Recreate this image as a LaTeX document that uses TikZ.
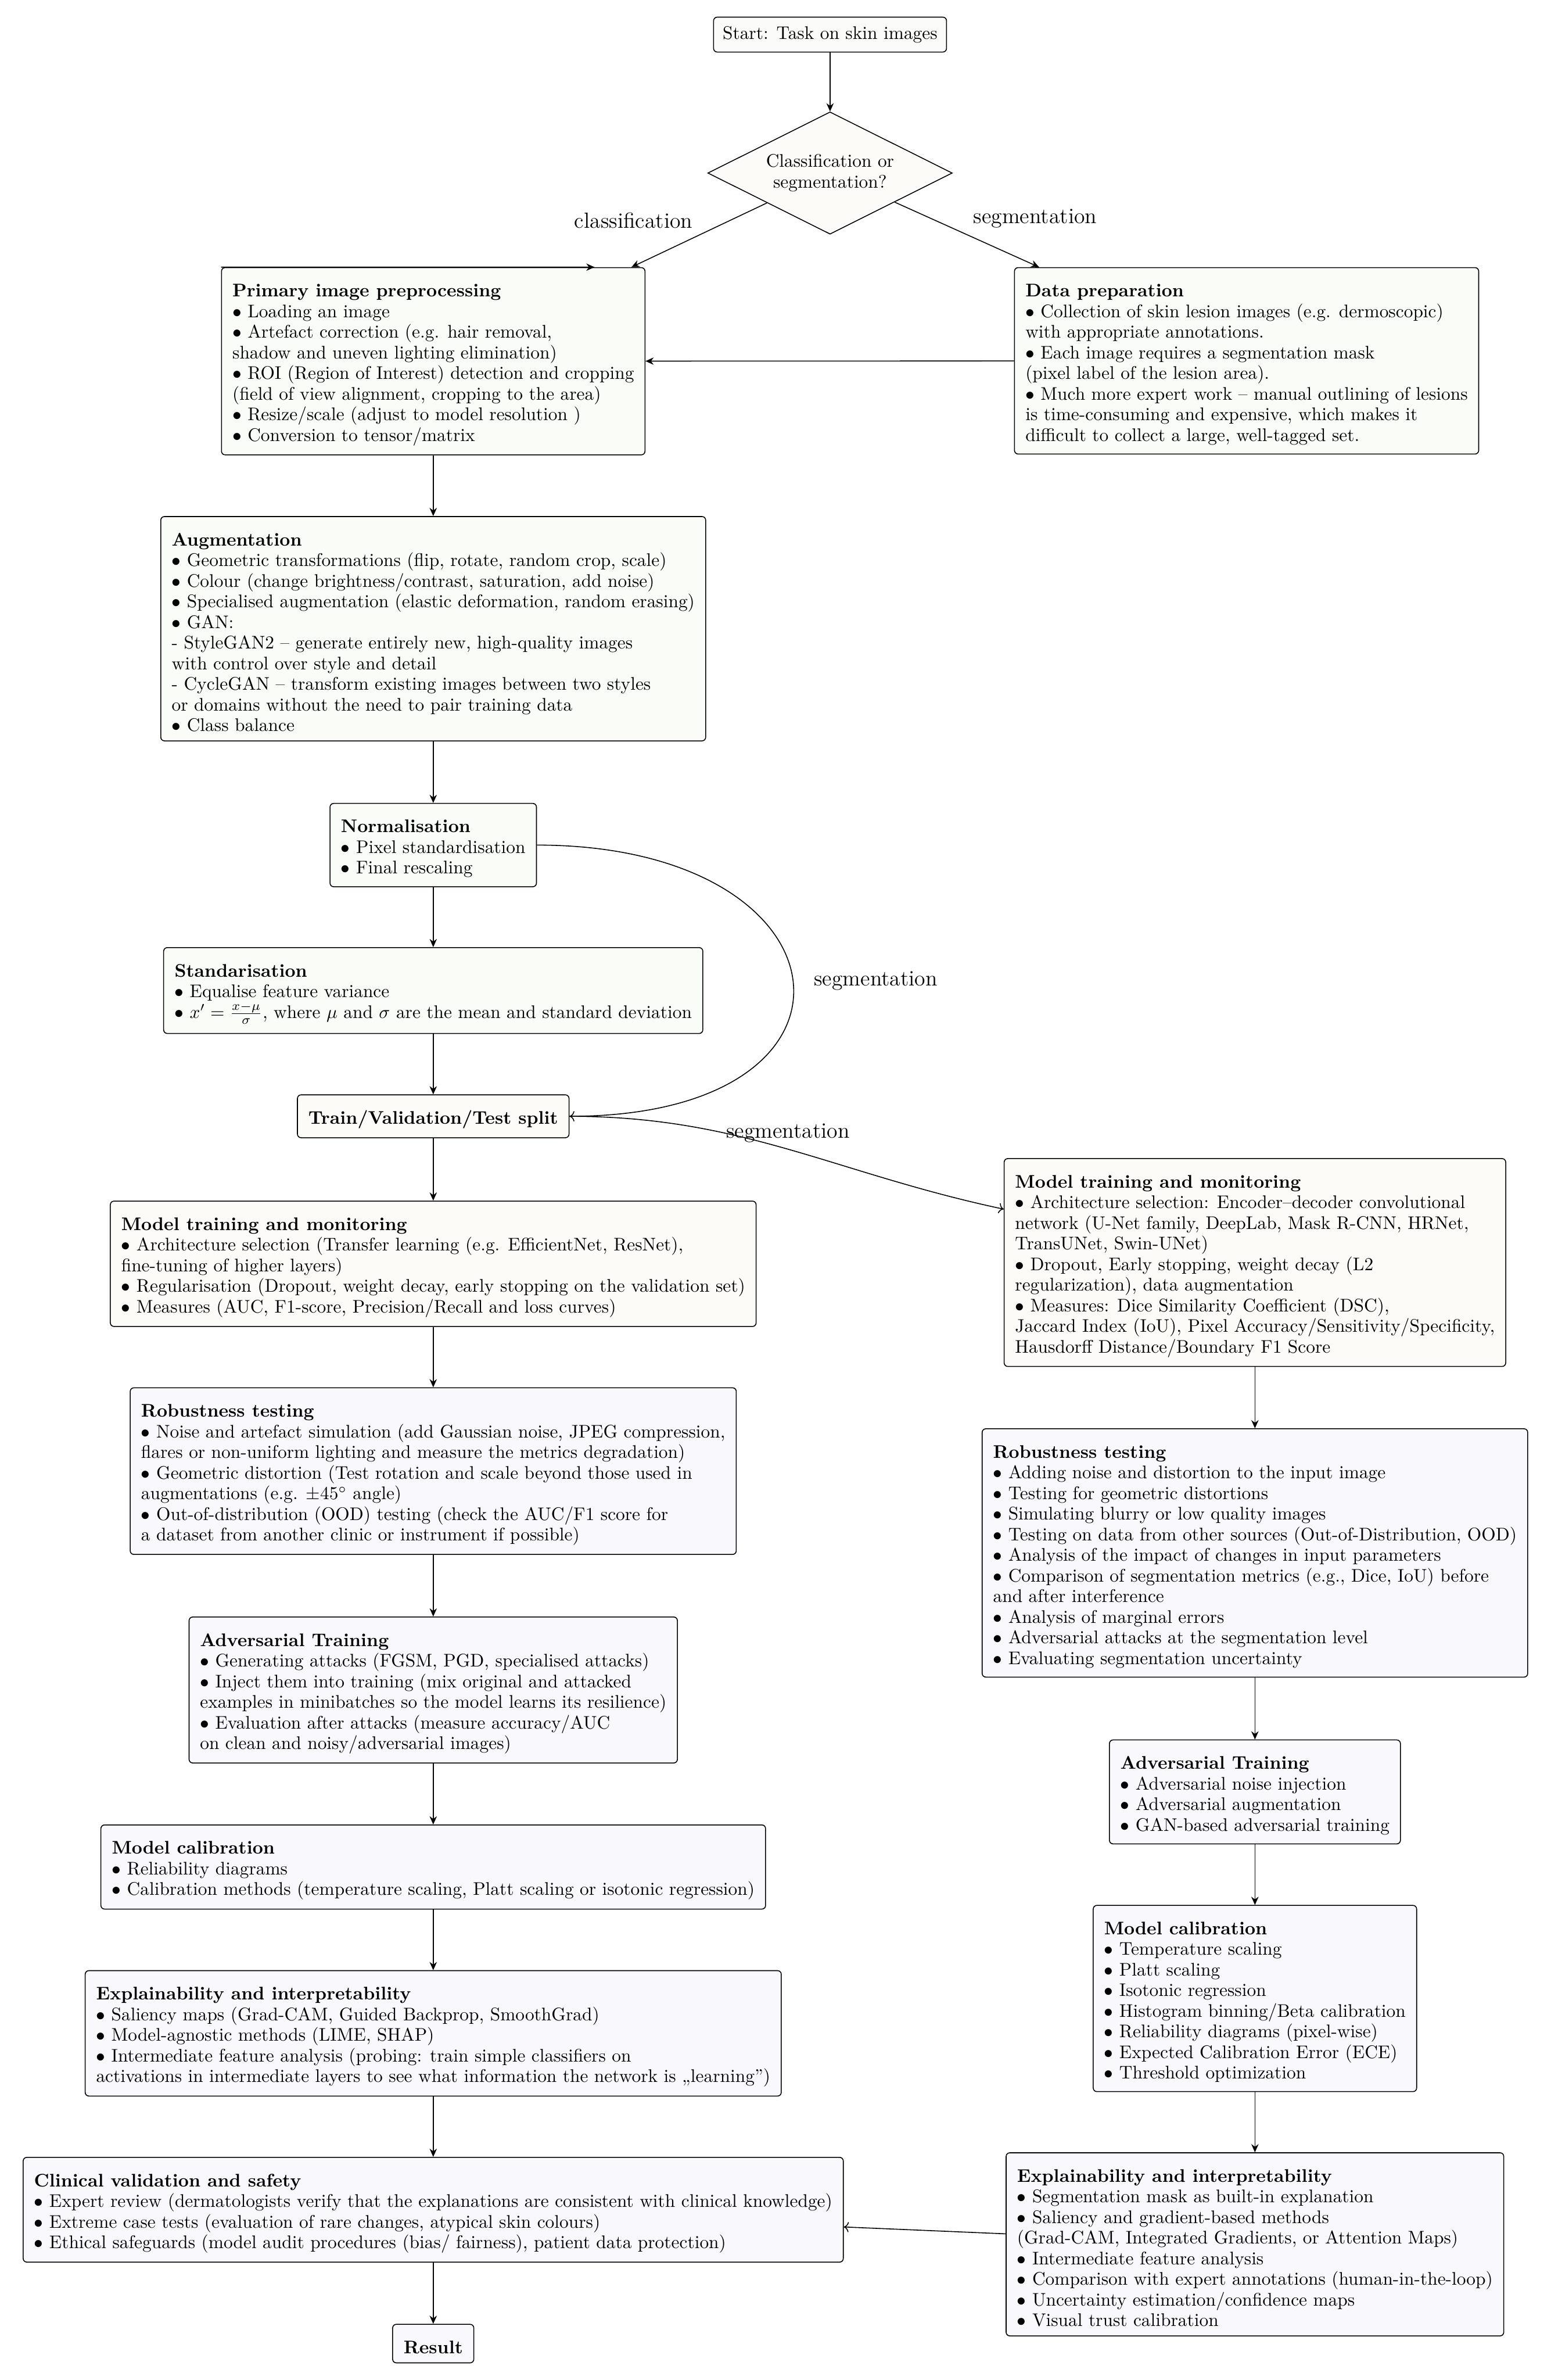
\documentclass[tikz,border=0pt]{standalone}
\usepackage{amsmath}
\usetikzlibrary{arrows.meta,shapes.geometric,calc}

\definecolor{prepfill}{RGB}{250,252,247}
\definecolor{trainfill}{RGB}{252,251,247}
\definecolor{testfill}{RGB}{249,248,252}
\definecolor{startfill}{RGB}{251,251,249}

\tikzset{
  block/.style={draw, rounded corners=2pt, align=left, anchor=north, inner xsep=6pt, inner ysep=5pt, line width=0.5pt, font=\fontsize{10}{11.3}\selectfont},
  decision/.style={draw, diamond, aspect=2, minimum width=134pt, minimum height=67pt, inner sep=1pt, align=center, line width=0.5pt, fill=trainfill, font=\fontsize{10}{11.3}\selectfont},
  flow/.style={-{Stealth[length=4.5pt,width=4pt]}, line width=0.5pt},
  seglink/.style={->, line width=0.5pt}
}

\newcommand{\blockhead}[1]{\rule{0pt}{11pt}\textbf{#1}}
\newcommand{\bul}{$\bullet$\ }

\begin{document}
\begin{tikzpicture}[x=0.8317pt, y=-0.8317pt]
    \useasboundingbox (0,0) rectangle (1022,1568);
    % start and decision
    \node[block, fill=startfill, inner xsep=5pt] (start) at (547,11) {Start: Task on skin images};
    \node[decision] (decision) at (547,114) {Classification or\\segmentation?};
    % preparation
    \node[block, fill=prepfill] (prep) at (285.5,176) {\blockhead{Primary image preprocessing}\\
      \bul Loading an image\\
      \bul Artefact correction (e.g. hair removal,\\
      shadow and uneven lighting elimination)\\
      \bul ROI (Region of Interest) detection and cropping\\
      (field of view alignment, cropping to the area)\\
      \bul Resize/scale (adjust to model resolution )\\
      \bul Conversion to tensor/matrix};
    \node[block, fill=prepfill] (dataprep) at (821.5,176) {\blockhead{Data preparation}\\
      \bul Collection of skin lesion images (e.g. dermoscopic)\\
      with appropriate annotations.\\
      \bul Each image requires a segmentation mask\\
      (pixel label of the lesion area).\\
      \bul Much more expert work -- manual outlining of lesions\\
      is time-consuming and expensive, which makes it\\
      difficult to collect a large, well-tagged set.};
    \node[block, fill=prepfill] (aug) at (285.5,340) {\blockhead{Augmentation}\\
      \bul Geometric transformations (flip, rotate, random crop, scale)\\
      \bul Colour (change brightness/contrast, saturation, add noise)\\
      \bul Specialised augmentation (elastic deformation, random erasing)\\
      \bul GAN:\\
      - StyleGAN2 -- generate entirely new, high-quality images\\
      with control over style and detail\\
      - CycleGAN -- transform existing images between two styles\\
      or domains without the need to pair training data\\
      \bul Class balance};
    \node[block, fill=prepfill] (norm) at (285.5,529) {\blockhead{Normalisation}\\
      \bul Pixel standardisation\\
      \bul Final rescaling};
    \node[block, fill=prepfill] (stand) at (285.5,624) {\blockhead{Standarisation}\\
      \bul Equalise feature variance\\
      \bul $x' = \frac{x-\mu}{\sigma}$, where $\mu$ and $\sigma$ are the mean and standard deviation};
    \node[block, fill=trainfill] (split) at (285.5,721) {\blockhead{Train/Validation/Test split}};
    % classification branch
    \node[block, fill=trainfill] (mtrain) at (285.5,791) {\blockhead{Model training and monitoring}\\
      \bul Architecture selection (Transfer learning (e.g. EfficientNet, ResNet),\\
      fine-tuning of higher layers)\\
      \bul Regularisation (Dropout, weight decay, early stopping on the validation set)\\
      \bul Measures (AUC, F1-score, Precision/Recall and loss curves)};
    \node[block, fill=testfill] (robust) at (285.5,914) {\blockhead{Robustness testing}\\
      \bul Noise and artefact simulation (add Gaussian noise, JPEG compression,\\
      flares or non-uniform lighting and measure the metrics degradation)\\
      \bul Geometric distortion (Test rotation and scale beyond those used in\\
      augmentations (e.g. $\pm45^\circ$ angle)\\
      \bul Out-of-distribution (OOD) testing (check the AUC/F1 score for\\
      a dataset from another clinic or instrument if possible)};
    \node[block, fill=testfill] (adv) at (285.5,1065) {\blockhead{Adversarial Training}\\
      \bul Generating attacks (FGSM, PGD, specialised attacks)\\
      \bul Inject them into training (mix original and attacked\\
      examples in minibatches so the model learns its resilience)\\
      \bul Evaluation after attacks (measure accuracy/AUC\\
      on clean and noisy/adversarial images)};
    \node[block, fill=testfill] (calib) at (285.5,1202) {\blockhead{Model calibration}\\
      \bul Reliability diagrams\\
      \bul Calibration methods (temperature scaling, Platt scaling or isotonic regression)};
    \node[block, fill=testfill] (explain) at (285.5,1298) {\blockhead{Explainability and interpretability}\\
      \bul Saliency maps (Grad-CAM, Guided Backprop, SmoothGrad)\\
      \bul Model-agnostic methods (LIME, SHAP)\\
      \bul Intermediate feature analysis (probing: train simple classifiers on\\
      activations in intermediate layers to see what information the network is ,,learning'')};
    \node[block, fill=testfill] (clinical) at (285.5,1421) {\blockhead{Clinical validation and safety}\\
      \bul Expert review (dermatologists verify that the explanations are consistent with clinical knowledge)\\
      \bul Extreme case tests (evaluation of rare changes, atypical skin colours)\\
      \bul Ethical safeguards (model audit procedures (bias/ fairness), patient data protection)};
    \node[block, fill=testfill] (result) at (285.5,1531) {\blockhead{Result}};
    % segmentation branch
    \node[block, fill=trainfill] (segtrain) at (827,763) {\blockhead{Model training and monitoring}\\
      \bul Architecture selection: Encoder--decoder convolutional\\
      network (U-Net family, DeepLab, Mask R-CNN, HRNet,\\
      TransUNet, Swin-UNet)\\
      \bul Dropout, Early stopping, weight decay (L2\\
      regularization), data augmentation\\
      \bul Measures: Dice Similarity Coefficient (DSC),\\
      Jaccard Index (IoU), Pixel Accuracy/Sensitivity/Specificity,\\
      Hausdorff Distance/Boundary F1 Score};
    \node[block, fill=testfill] (segrobust) at (827,941) {\blockhead{Robustness testing}\\
      \bul Adding noise and distortion to the input image\\
      \bul Testing for geometric distortions\\
      \bul Simulating blurry or low quality images\\
      \bul Testing on data from other sources (Out-of-Distribution, OOD)\\
      \bul Analysis of the impact of changes in input parameters\\
      \bul Comparison of segmentation metrics (e.g., Dice, IoU) before\\
      and after interference\\
      \bul Analysis of marginal errors\\
      \bul Adversarial attacks at the segmentation level\\
      \bul Evaluating segmentation uncertainty};
    \node[block, fill=testfill] (segadv) at (827,1146) {\blockhead{Adversarial Training}\\
      \bul Adversarial noise injection\\
      \bul Adversarial augmentation\\
      \bul GAN-based adversarial training};
    \node[block, fill=testfill] (segcalib) at (827,1255) {\blockhead{Model calibration}\\
      \bul Temperature scaling\\
      \bul Platt scaling\\
      \bul Isotonic regression\\
      \bul Histogram binning/Beta calibration\\
      \bul Reliability diagrams (pixel-wise)\\
      \bul Expected Calibration Error (ECE)\\
      \bul Threshold optimization};
    \node[block, fill=testfill] (segexplain) at (827,1418) {\blockhead{Explainability and interpretability}\\
      \bul Segmentation mask as built-in explanation\\
      \bul Saliency and gradient-based methods\\
      (Grad-CAM, Integrated Gradients, or Attention Maps)\\
      \bul Intermediate feature analysis\\
      \bul Comparison with expert annotations (human-in-the-loop)\\
      \bul Uncertainty estimation/confidence maps\\
      \bul Visual trust calibration};
    % connectors
    \draw[flow] (start) -- (decision);
    \draw[flow] (decision) -- node[midway, above left, font=\large] {classification} (prep);
    \draw[flow] (decision) -- node[midway, above right, font=\large] {segmentation} (dataprep);
    \draw[flow] (dataprep) -- (prep);
    \coordinate (prepmark) at ($(prep.north west)!0.88!(prep.north east)$);
    \draw[flow] (prep.north west) -- (prepmark);
    \draw[flow] (prep) -- (aug);
    \draw[flow] (aug) -- (norm);
    \draw[flow] (norm) -- (stand);
    \draw[flow] (stand) -- (split);
    \draw[seglink] (norm.east) to[out=0, in=0, looseness=3] node[midway, right=8pt, font=\large] {segmentation} (split.east);
    \draw[seglink] (split) to[out=0, in=168] node[midway, above, font=\large] {segmentation} (segtrain);
    \draw[flow] (split) -- (mtrain);
    \draw[flow] (mtrain) -- (robust);
    \draw[flow] (robust) -- (adv);
    \draw[flow] (adv) -- (calib);
    \draw[flow] (calib) -- (explain);
    \draw[flow] (explain) -- (clinical);
    \draw[flow] (clinical) -- (result);
    \draw[flow] (segtrain) -- (segrobust);
    \draw[flow] (segrobust) -- (segadv);
    \draw[flow] (segadv) -- (segcalib);
    \draw[flow] (segcalib) -- (segexplain);
    \draw[seglink] (segexplain) -- (clinical);
\end{tikzpicture}
\end{document}
